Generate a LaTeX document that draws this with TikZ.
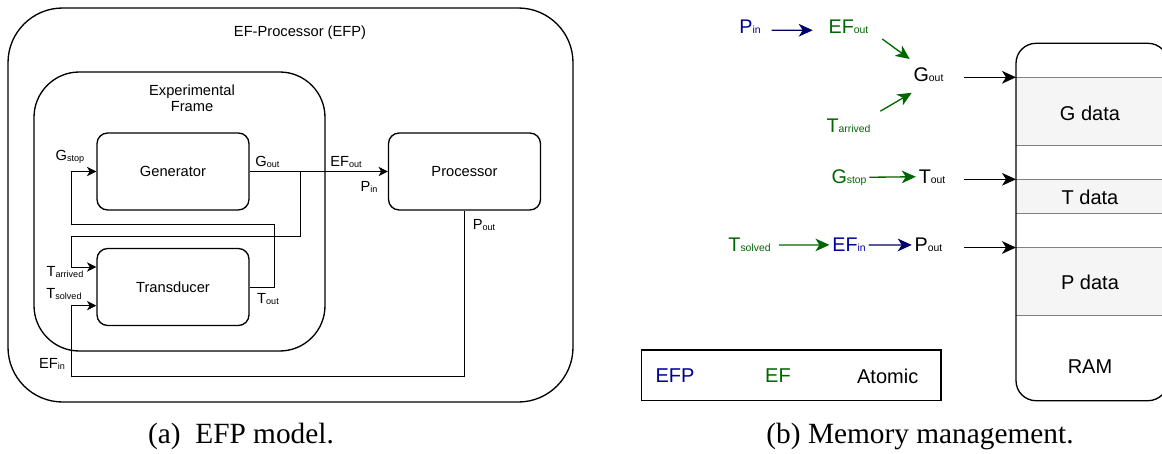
\documentclass[tikz,border=0pt]{standalone}
\usepackage{fontspec}
\setmainfont{Liberation Serif}
\setsansfont{Liberation Sans}
\usetikzlibrary{arrows.meta, calc}
\definecolor{efpblue}{RGB}{0,0,153}
\definecolor{efgreen}{RGB}{0,102,0}
\definecolor{ramfill}{RGB}{245,245,245}
\newcommand{\lsub}[1]{\raisebox{-1pt}{\fontsize{6.8}{7}\selectfont #1}}
\newcommand{\rsub}[1]{{\fontsize{7.8}{8}\selectfont #1}}

\begin{document}
\begin{tikzpicture}[x=0.75pt, y=-0.75pt,
    every node/.style={font=\sffamily\fontsize{11}{12}\selectfont},
    roundbox/.style={draw, line width=1pt, rounded corners=#1},
    block/.style={draw, line width=1pt, rounded corners=8pt, minimum width=114pt, minimum height=57.75pt},
    wire/.style={line width=0.75pt},
    lefthead/.style={-{Stealth[length=7pt,width=7pt,inset=2pt]}},
    lport/.style={anchor=base},
    big/.style={font=\sffamily\fontsize{14.8}{16}\selectfont, anchor=base, inner sep=2pt},
    rtext/.style={font=\sffamily\fontsize{15}{17}\selectfont},
    flow/.style={line width=1pt, -{Stealth[length=10.5pt,width=9.5pt,inset=3pt]}},
    subcaption/.style={font=\rmfamily\fontsize{22}{26}\selectfont, anchor=base}]

    \clip (0,0) rectangle (1162,453);

    \node (efp) [roundbox=41pt, minimum width=423.75pt, minimum height=295.5pt] at (290.5,205) {};
    \node (efptitle) at (300,33) {EF-Processor (EFP)};
    \node (ef) [roundbox=34pt, minimum width=218.25pt, minimum height=209.25pt] at (179.5,211.5) {};
    \node (eftitle) [align=center] at (192,98) {Experimental\\Frame};

    \node (gen) [block] at (173,171.5) {Generator};
    \node (trans) [block] at (173,287) {Transducer};
    \node (proc) [block] at (464.5,171.5) {Processor};

    \node (gstop) [lport] at (70,160) {G\lsub{stop}};
    \node (gout) [lport] at (267.5,166) {G\lsub{out}};
    \node (efout) [lport] at (346,166) {EF\lsub{out}};
    \node (pin) [lport] at (369,191.5) {P\lsub{in}};
    \node (pout) [lport] at (484,229) {P\lsub{out}};
    \node (tarr) [lport] at (65,276) {T\lsub{arrived}};
    \node (tsol) [lport] at (64,298.5) {T\lsub{solved}};
    \node (tout) [lport] at (268,303.5) {T\lsub{out}};
    \node (efin) [lport] at (52,368.5) {EF\lsub{in}};

    \coordinate (split) at (300,171.5);
    \coordinate (arrbend) at (71,236);
    \coordinate (toutbend) at (274,224);
    \coordinate (stopbend) at (71,224);
    \coordinate (inbend) at (71,376);

    \draw [wire, lefthead] (gen.east) -- (proc.west);
    \draw [wire, lefthead] (split) |- (arrbend) |- ([yshift=15pt]trans.west);
    \draw [wire, lefthead] (trans.east) -| (toutbend) -- (stopbend) |- (gen.west);
    \draw [wire, lefthead] (proc.south) |- (inbend) |- ([yshift=-14pt]trans.west);

    \node (rpin) [big, text=efpblue] at (750,34) {P\rsub{in}};
    \node (refout) [big, text=efgreen] at (848.5,34) {EF\rsub{out}};
    \node (rgout) [big] at (928.5,81.7) {G\rsub{out}};
    \node (rtarr) [big, text=efgreen] at (848.5,132.7) {T\rsub{arrived}};
    \node (rgstop) [big, text=efgreen] at (849,183.3) {G\rsub{stop}};
    \node (rtout) [big] at (932,183.3) {T\rsub{out}};
    \node (rtsol) [big, text=efgreen] at (749.5,251.7) {T\rsub{solved}};
    \node (refin) [big, text=efpblue] at (849,251.7) {EF\rsub{in}};
    \node (rpout) [big] at (928.5,251.7) {P\rsub{out}};

    \draw [flow, efpblue!70!black] ([shift={(8,3)}]rpin.east) -- ([shift={(-13,3)}]refout.west);
    \draw [flow, efgreen] ([shift={(11,2)}]refout.south east) -- ([shift={(-1,-6)}]rgout.north west);
    \draw [flow, efgreen] ([shift={(7,-5)}]rtarr.north east) -- ([shift={(1,8)}]rgout.south west);
    \draw [flow, efgreen] (rgstop) -- (rtout);
    \draw [flow, efgreen] ([xshift=4pt]rtsol.east) -- (refin.west);
    \draw [flow, efpblue!70!black] (refin) -- (rpout);

    \fill [ramfill] (1016,77.3) rectangle (1170,145.7);
    \fill [ramfill] (1016,179.3) rectangle (1170,213.3);
    \fill [ramfill] (1016,247.7) rectangle (1170,315.3);
    \foreach \y in {77.3,145.7,179.3,213.3,247.7,315.3}
        \draw [gray, line width=0.9pt] (1016,\y) -- (1170,\y);
    \draw [line width=1pt, rounded corners=15pt] (1016,43.3) rectangle (1168,400.7);

    \node (gdata) [rtext] at (1090,113) {G data};
    \node (tdata) [rtext] at (1090,197) {T data};
    \node (pdata) [rtext] at (1090,282) {P data};
    \node (ram) [rtext] at (1090,367) {RAM};

    \coordinate (gslot) at (1016,77.3);
    \coordinate (tslot) at (1016,179.3);
    \coordinate (pslot) at (1016,247.5);
    \draw [flow] ($(rgout.east |- gslot)+(18,0)$) -- (gslot);
    \draw [flow] ($(rtout.east |- tslot)+(16,0)$) -- (tslot);
    \draw [flow] ($(rpout.east |- pslot)+(19,0)$) -- (pslot);

    \node (legend) [draw, line width=1pt, minimum width=224.5pt, minimum height=38pt] at (791.3,375.3) {};
    \node (lgefp) [rtext, text=efpblue] at (675,376) {EFP};
    \node (lgef) [rtext, text=efgreen] at (778,376) {EF};
    \node (lgatomic) [rtext] at (887.7,376) {Atomic};

    \node (capa) [subcaption] at (241,443) {(a)\ \ EFP model.};
    \node (capb) [subcaption] at (920,443) {(b) Memory management.};

\end{tikzpicture}
\end{document}
